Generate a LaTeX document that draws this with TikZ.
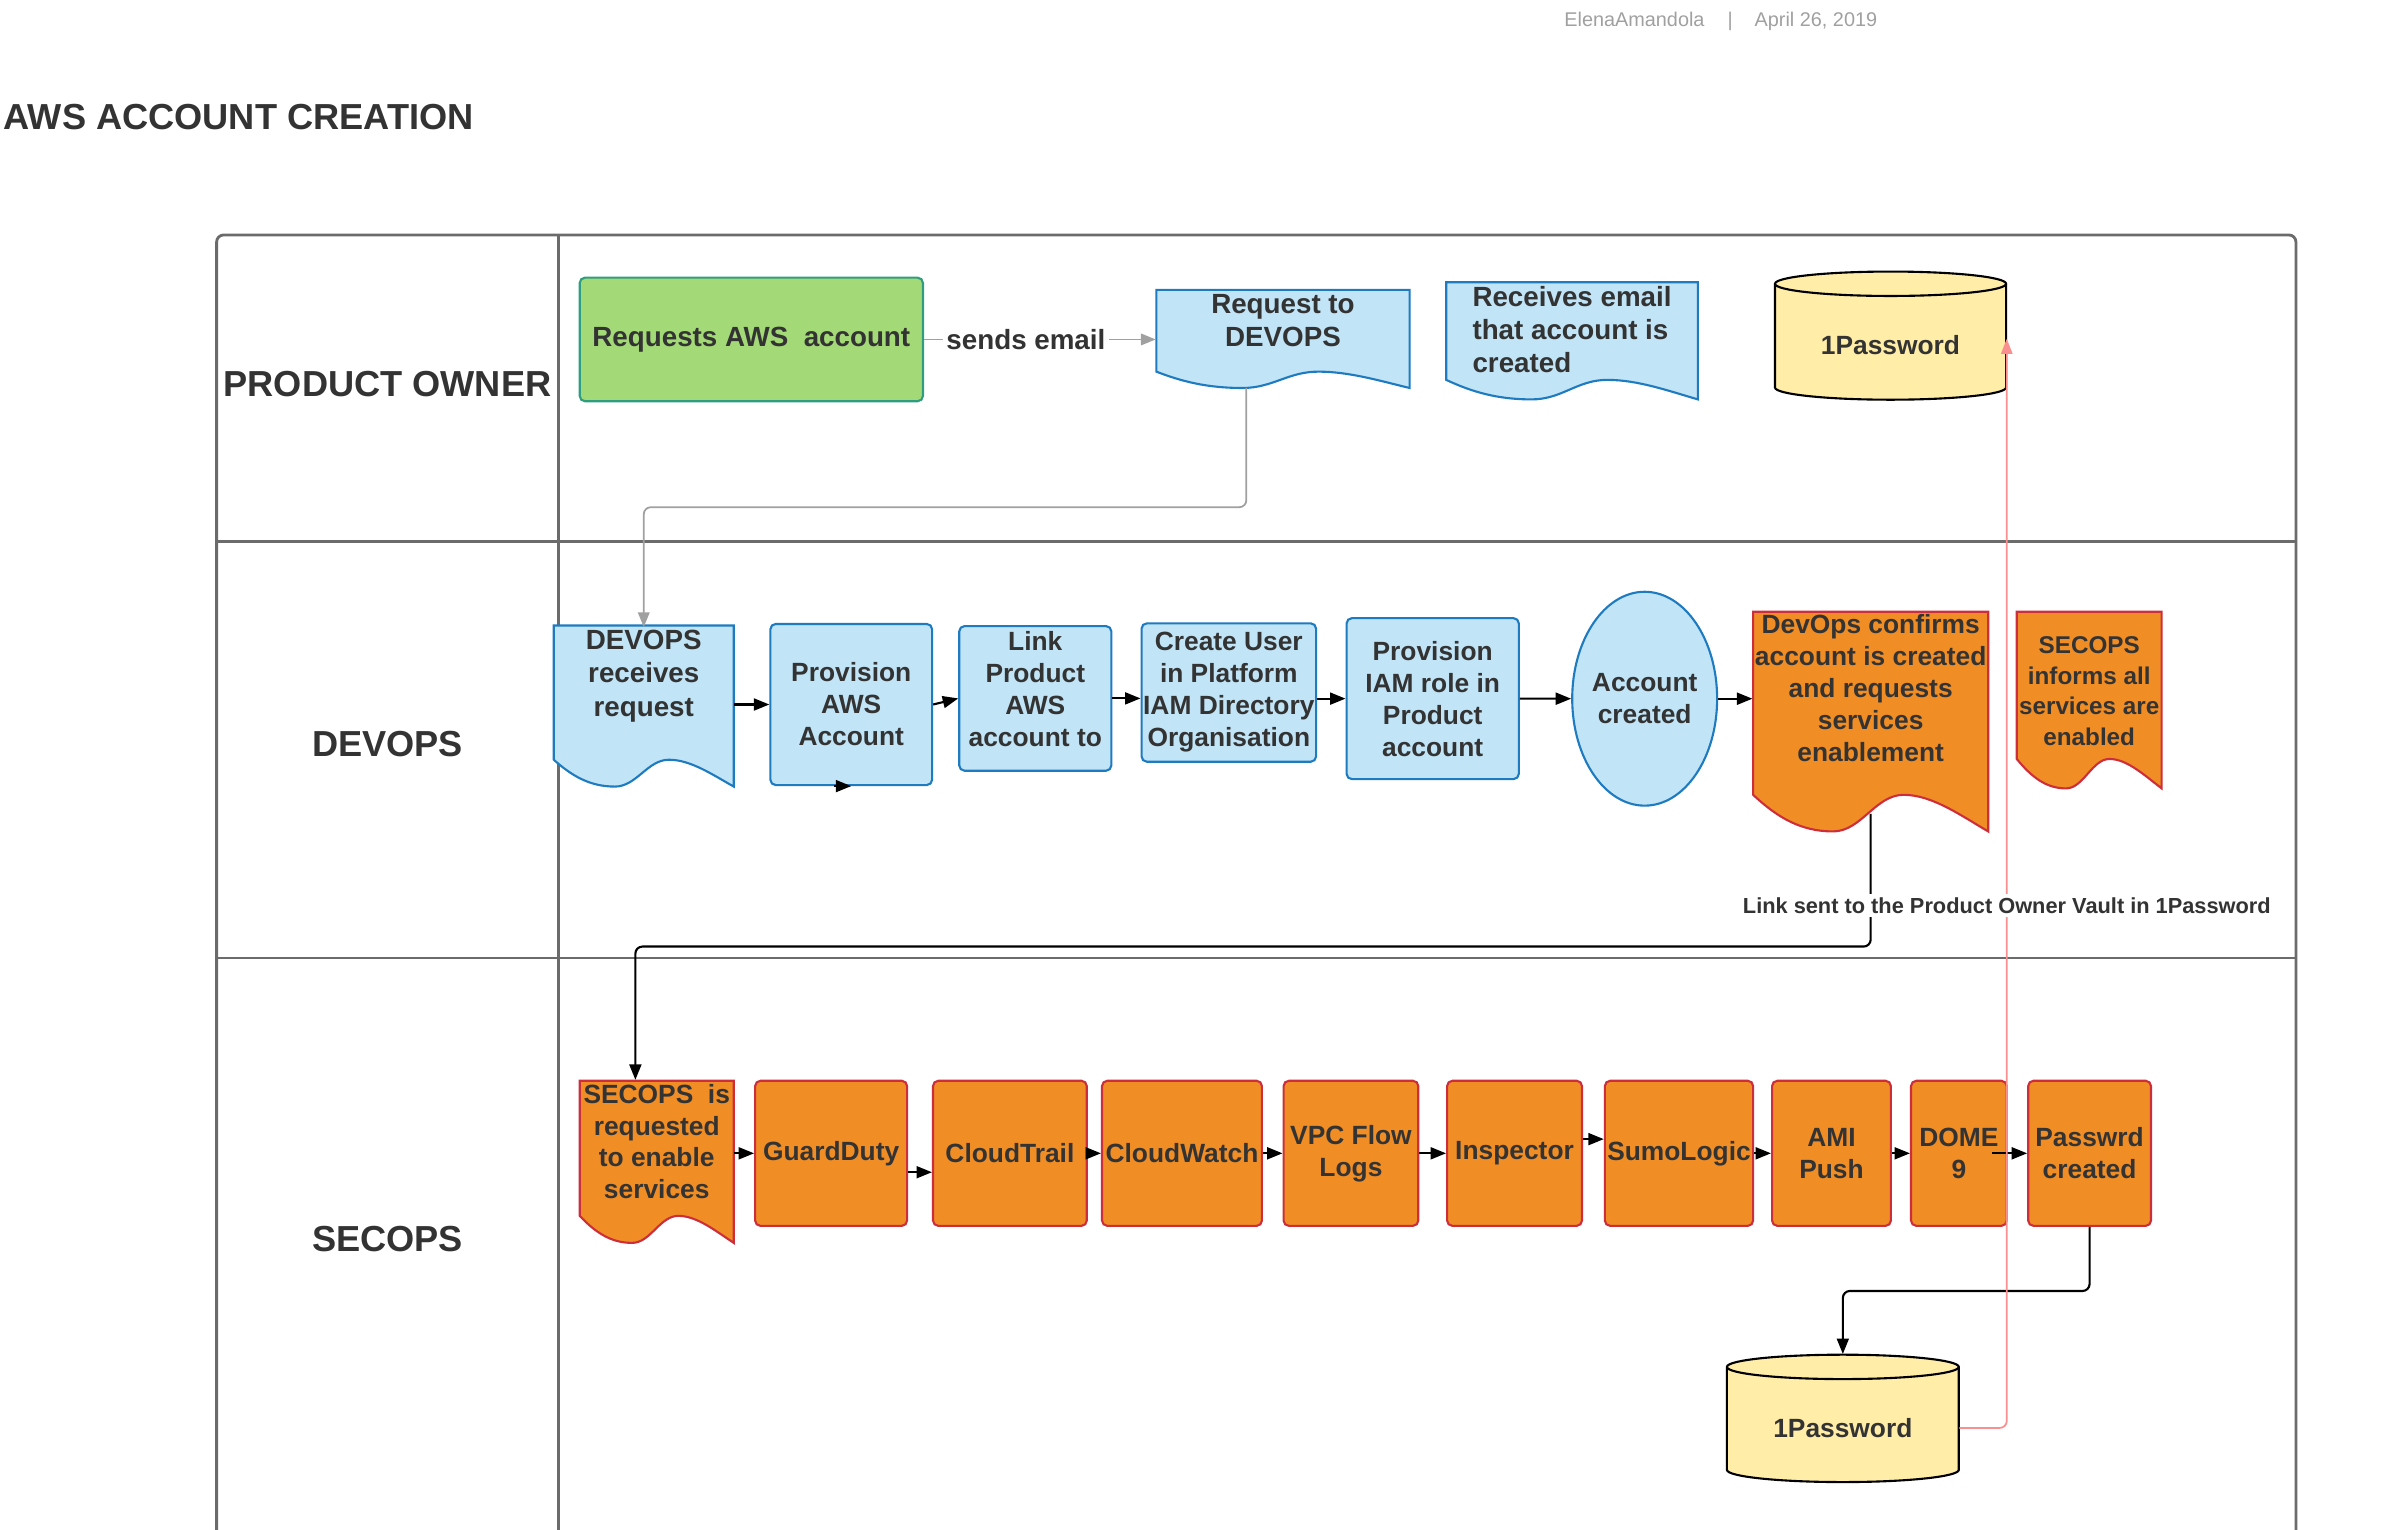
\documentclass[tikz,border=0pt]{standalone}
\usepackage{fontspec}
\setmainfont{Liberation Sans}
\usetikzlibrary{arrows.meta,calc,shapes.geometric}

\definecolor{txtgray}{HTML}{333333}
\definecolor{lanegray}{HTML}{6B6B6B}
\definecolor{hdrgray}{HTML}{A0A0A0}
\definecolor{conngray}{HTML}{A0A0A0}
\definecolor{greenfill}{HTML}{A3D977}
\definecolor{greenline}{HTML}{2F9E80}
\definecolor{bluefill}{HTML}{C1E4F7}
\definecolor{blueline}{HTML}{1F7BC0}
\definecolor{orangefill}{HTML}{F08D24}
\definecolor{redline}{HTML}{CC2F3B}
\definecolor{yellowfill}{HTML}{FFEDA8}
\definecolor{pinkline}{HTML}{FA8F8F}

\newcommand{\pxu}{0.015255cm}
\newcommand{\docshape}[5]{%
  \filldraw[#1] (#2,#3) -- ({#2+#4},#3) -- ({#2+#4},{#3-1.2*#5})
    .. controls ({#2+0.88*#4},{#3-1.11*#5}) and ({#2+0.76*#4},{#3-#5}) .. ({#2+0.64*#4},{#3-#5})
    .. controls ({#2+0.52*#4},{#3-#5}) and ({#2+0.46*#4},{#3-1.2*#5}) .. ({#2+0.34*#4},{#3-1.2*#5})
    .. controls ({#2+0.2*#4},{#3-1.2*#5}) and ({#2+0.1*#4},{#3-1.12*#5}) .. (#2,{#3-#5}) -- cycle;}
\newcommand{\cylshape}[4]{%
  \filldraw[cyl] (#1,{#2-8}) -- (#1,{#2-#4+8})
    arc[start angle=180, end angle=360, x radius={#3/2}, y radius=8]
    -- ({#1+#3},{#2-8})
    arc[start angle=0, end angle=180, x radius={#3/2}, y radius=8] -- cycle;
  \draw[cyl, fill=none] (#1,{#2-8}) arc[start angle=180, end angle=360, x radius={#3/2}, y radius=8];}

\begin{document}
\begin{tikzpicture}[x=\pxu, y=\pxu,
    pool/.style={draw=lanegray, line width=0.8pt},
    lanetitle/.style={font=\fontsize{10.3}{12}\selectfont\bfseries, text=txtgray, inner sep=0pt},
    maintitle/.style={font=\fontsize{10.3}{12}\selectfont\bfseries, text=txtgray, inner sep=0pt},
    hdr/.style={font=\fontsize{5.65}{7}\selectfont, text=hdrgray, inner sep=0pt},
    bigtxt/.style={font=\fontsize{7.9}{9.5}\selectfont\bfseries, text=txtgray, align=center, inner sep=0pt},
    boxtxt/.style={font=\fontsize{7.5}{9.1}\selectfont\bfseries, text=txtgray, align=center, inner sep=0pt},
    smalltxt/.style={font=\fontsize{6.9}{8.7}\selectfont\bfseries, text=txtgray, align=center, inner sep=0pt},
    greenbox/.style={bigtxt, draw=greenline, fill=greenfill, line width=0.6pt, rounded corners=1.5pt},
    bluebox/.style={boxtxt, draw=blueline, fill=bluefill, line width=0.6pt, rounded corners=1.5pt},
    orangebox/.style={boxtxt, draw=redline, fill=orangefill, line width=0.6pt, rounded corners=1.5pt},
    blueell/.style={boxtxt, ellipse, draw=blueline, fill=bluefill, line width=0.6pt, inner sep=-1pt},
    bluedoc/.style={draw=blueline, fill=bluefill, line width=0.6pt},
    orangedoc/.style={draw=redline, fill=orangefill, line width=0.6pt},
    cyl/.style={draw=black, fill=yellowfill, line width=0.6pt},
    arr/.style={draw=black, line width=0.6pt, rounded corners=2pt, -{Triangle[length=4.4pt, width=3.4pt]}},
    grayarr/.style={draw=conngray, line width=0.5pt, rounded corners=2pt, -{Triangle[length=4.2pt, width=3.3pt]}},
    pinkarr/.style={draw=pinkline, line width=0.5pt, rounded corners=2pt, -{Triangle[length=4.3pt, width=3.2pt]}},
    lbl/.style={font=\fontsize{7.9}{9.5}\selectfont\bfseries, text=txtgray, fill=white, inner sep=1pt},
    linklbl/.style={font=\fontsize{6.2}{7.5}\selectfont\bfseries, text=txtgray, fill=white, inner sep=1pt}]
    \useasboundingbox (0,0) rectangle (1568,-1002.3);

    \node[hdr, anchor=base west] (h1) at (1025,-17.6) {ElenaAmandola\hspace{6.6pt}|\hspace{6.2pt}April 26, 2019};
    \node[maintitle, anchor=west] (t1) at (2,-77) {AWS ACCOUNT CREATION};

    \draw[pool, rounded corners=2pt] (142,-1003) -- (142,-154) -- (1505,-154) -- (1505,-1003);
    \draw[pool] (366,-154) -- (366,-1003);
    \draw[pool] (142,-355) -- (1505,-355);
    \draw[pool] (142,-628) -- (1505,-628);
    \node[lanetitle] (l1) at (254,-252) {PRODUCT OWNER};
    \node[lanetitle] (l2) at (254,-488) {DEVOPS};
    \node[lanetitle] (l3) at (254,-812) {SECOPS};

    \node[greenbox, minimum width=225*\pxu, minimum height=81*\pxu] (p1) at (492.5,-222.5) {Requests AWS\ \ account};
    \docshape{bluedoc}{758}{-190}{166}{53.6}
    \node[bigtxt, minimum width=166*\pxu, minimum height=40*\pxu] (p2) at (841,-210) {Request to\\DEVOPS};
    \docshape{bluedoc}{948}{-185}{165}{64}
    \node[bigtxt, align=left, minimum width=165*\pxu, minimum height=64*\pxu] (p3) at (1030.5,-216) {Receives email\\that account is\\created};
    \cylshape{1163.5}{-178}{151.5}{84}
    \node[boxtxt, minimum width=151.5*\pxu, minimum height=72*\pxu] (pw1) at (1239.25,-226) {1Password};

    \docshape{bluedoc}{363}{-410}{118}{88}
    \node[bigtxt, minimum width=118*\pxu, minimum height=63*\pxu] (d1) at (422,-443) {DEVOPS\\receives\\request};
    \node[bluebox, minimum width=106*\pxu, minimum height=105.6*\pxu] (d2) at (558,-461.8) {Provision\\AWS\\Account};
    \node[bluebox, minimum width=99.7*\pxu, minimum height=94.8*\pxu] (d3) at (678.65,-457.8) {Link\\Product\\AWS\\account to\\[-3.9pt]\mbox{}};
    \node[bluebox, minimum width=114.4*\pxu, minimum height=90.7*\pxu] (d4) at (805.5,-453.95) {Create User\\in Platform\\IAM Directory\\Organisation};
    \node[bluebox, minimum width=112.9*\pxu, minimum height=105.5*\pxu] (d5) at (939.15,-457.95) {Provision\\IAM role in\\Product\\account};
    \node[blueell, minimum width=95*\pxu, minimum height=140.2*\pxu] (d6) at (1078.1,-458) {Account\\created};
    \docshape{orangedoc}{1149.2}{-401}{154.1}{120}
    \node[boxtxt, minimum width=154.1*\pxu, minimum height=100*\pxu] (d7) at (1226.25,-451) {DevOps confirms\\account is created\\and requests\\services\\enablement};
    \docshape{orangedoc}{1322}{-401}{95}{96.5}
    \node[smalltxt, minimum width=95*\pxu, minimum height=96.5*\pxu] (d8) at (1369.5,-453) {SECOPS\\informs all\\services are\\enabled};

    \docshape{orangedoc}{380}{-708.4}{101}{88.6}
    \node[boxtxt, minimum width=101*\pxu, minimum height=80*\pxu] (s1) at (430.5,-748.3) {SECOPS\ \ is\\requested\\to enable\\services};
    \node[orangebox, minimum width=99.6*\pxu, minimum height=95.1*\pxu] (s2) at (544.8,-756) {GuardDuty};
    \node[orangebox, minimum width=100.8*\pxu, minimum height=95.1*\pxu] (s3) at (662,-756) {CloudTrail};
    \node[orangebox, minimum width=104.8*\pxu, minimum height=95.1*\pxu] (s4) at (774.8,-756) {CloudWatch};
    \node[orangebox, minimum width=88.3*\pxu, minimum height=95.1*\pxu] (s5) at (885.55,-756) {VPC Flow\\Logs};
    \node[orangebox, minimum width=88.4*\pxu, minimum height=95.1*\pxu] (s6) at (992.8,-756) {Inspector};
    \node[orangebox, minimum width=97.2*\pxu, minimum height=95.1*\pxu] (s7) at (1100.6,-756) {SumoLogic};
    \node[orangebox, minimum width=77.9*\pxu, minimum height=95.1*\pxu] (s8) at (1200.55,-756) {AMI\\Push};
    \node[orangebox, minimum width=62.7*\pxu, minimum height=95.1*\pxu] (s9) at (1284.05,-756) {DOME\\9};
    \node[orangebox, minimum width=80.5*\pxu, minimum height=95.1*\pxu] (s10) at (1369.75,-756) {Passwrd\\created};
    \cylshape{1132}{-888}{152}{83.5}
    \node[boxtxt, minimum width=152*\pxu, minimum height=71*\pxu] (pw2) at (1208,-936) {1Password};

    \draw[grayarr] (p1.east) -- node[lbl, pos=0.44] {sends email} (p1.east -| p2.west);
    \draw[grayarr] ($(p2.south)+(-24,-24)$) -- ++(0,-78) -| (d1.north);
    \draw[arr] (d1.east |- d2.west) -- (d2.west);
    \draw[arr] ($(d2.south)+(-11,0)$) -- (d2.south);
    \draw[arr] (d2.east) -- (d3.west);
    \draw[arr] (d3.east) -- (d3.east -| d4.west);
    \draw[arr] (d4.east |- d5.west) -- (d5.west);
    \draw[arr] (d5.east) -- (d6.west);
    \draw[arr] (d6.east) -- (d6.east -| d7.west);
    \draw[arr] ($(d7.south)+(0,-32)$) -- ++(0,-87) -| ($(s1.north)+(-14,0)$);
    \draw[arr] (s1.east |- s2.west) -- (s2.west);
    \draw[arr] ($(s2.east)+(0,-12.4)$) -- ($(s3.west)+(0,-12.4)$);
    \draw[arr] (s3) -- (s4);
    \draw[arr] (s4) -- (s5);
    \draw[arr] (s5) -- (s6);
    \draw[arr] ($(s6.east)+(0,9.3)$) -- ($(s7.west)+(0,9.3)$);
    \draw[arr] (s7) -- (s8);
    \draw[arr] (s8) -- (s9);
    \draw[arr] ($(s9.east)+(-10,0)$) -- (s10.west);
    \draw[arr] (s10.south) -- ++(0,-42) -| ($(pw2.north)+(0,12.5)$);
    \draw[pinkarr] (pw2.east) -| ($(pw1.east)+(0,4)$);
    \node[linklbl] (lk) at (1315.5,-593.7) {Link sent to the Product Owner Vault in 1Password};
\end{tikzpicture}
\end{document}
